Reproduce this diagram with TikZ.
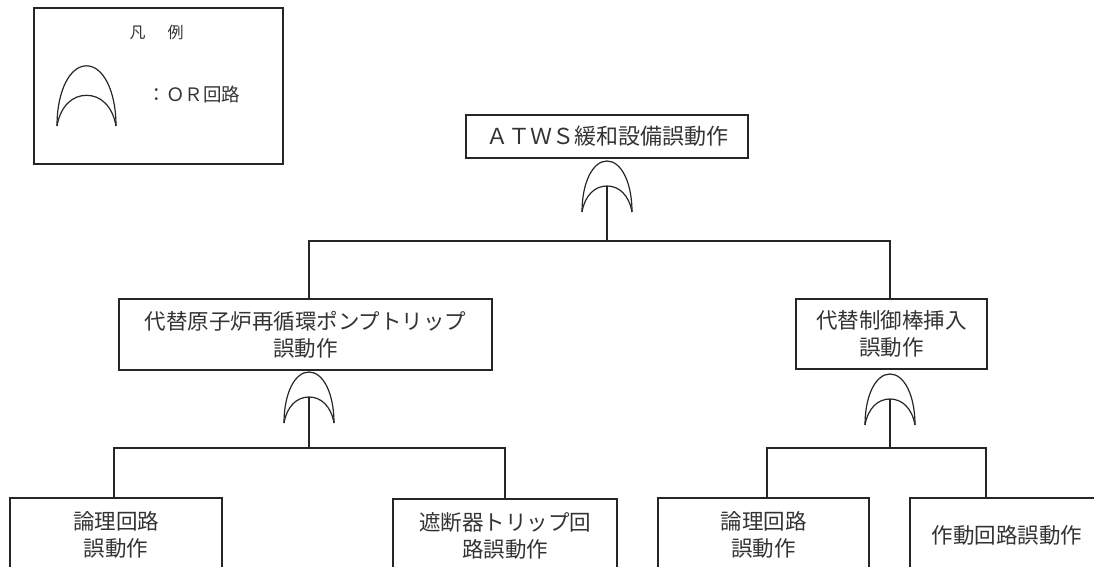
\documentclass[tikz,border=0pt]{standalone}
\usepackage{fontspec}
\newfontfamily\jp{Noto Sans CJK JP}
\begin{document}
\begin{tikzpicture}[x=1pt,y=-1pt,
  line/.style={line width=1.2pt, draw=black!85},
  gate/.style={line width=1.2pt, draw=black!85},
  box/.style={draw=black!85, line width=1.3pt, fill=white, align=center, inner sep=0pt,
    text=black!80, font=\jp\fontsize{21.5}{27}\selectfont},
  orgate/.pic={
    \draw[gate] (-25,0) .. controls (-25,-30) and (-14,-51) .. (0,-51)
                        .. controls (14,-51) and (25,-30) .. (25,0);
    \draw[gate] (-25,0) .. controls (-22,-17) and (-12,-26) .. (0,-26)
                        .. controls (12,-26) and (22,-17) .. (25,0);
    \coordinate (-in) at (0,-26);
    \coordinate (-top) at (0,-51);
  }]
\useasboundingbox (0,0) rectangle (1094,567);
\clip (0,0) rectangle (1094,567);
\fill[white] (0,0) rectangle (1094,567);

% legend
\node[draw=black!85, line width=1.4pt, minimum width=249pt, minimum height=156pt, inner sep=0pt] (legend) at (158.5,86) {};
\node[text=black!80, font=\jp\fontsize{16}{16}\selectfont, inner sep=0pt] (legtitle) at (156.5,32) {凡\hspace{22pt}例};
\pic[scale=1.18] (lg) at (86.5,126) {orgate};
\node[anchor=west, text=black!80, font=\jp\fontsize{18.5}{18.5}\selectfont, inner sep=0pt] (legtext) at (147.5,94) {：ＯＲ回路};

% boxes
\node[box, minimum width=282pt, minimum height=43pt, font=\jp\fontsize{22}{27}\selectfont] (top) at (607,136.5) {ＡＴＷＳ緩和設備誤動作};
\node[box, minimum width=373pt, minimum height=71pt] (mL) at (305.5,334.5) {代替原子炉再循環ポンプトリップ\\誤動作};
\node[box, minimum width=191pt, minimum height=70pt] (mR) at (891.5,334) {代替制御棒挿入\\誤動作};
\node[box, minimum width=212pt, minimum height=74pt] (bL1) at (116,535) {論理回路\\誤動作};
\node[box, minimum width=224pt, minimum height=74pt] (bL2) at (505,536) {遮断器トリップ回\\路誤動作};
\node[box, minimum width=211pt, minimum height=74pt] (bR1) at (763.5,535) {論理回路\\誤動作};
\node[box, minimum width=194pt, minimum height=74pt] (bR2) at (1007,535) {作動回路誤動作};

% gates
\pic (g1) at (607,212) {orgate};
\pic (g2) at (309,423) {orgate};
\pic (g3) at (890,425) {orgate};

% junctions
\coordinate (j1) at (607,241);
\coordinate (j2) at (309,448);
\coordinate (j3) at (890,448);

% connectors
\draw[line] (g1-in) -- (j1);
\draw[line] (mL.north -| g2-top) |- (j1) -| (mR.north -| g3-top);
\draw[line] (g2-in) -- (j2);
\draw[line] ([xshift=-2pt]bL1.north) |- (j2) -| (bL2.north);
\draw[line] (g3-in) -- (j3);
\draw[line] ([xshift=3.5pt]bR1.north) |- (j3) -| ([xshift=-21pt]bR2.north);
\end{tikzpicture}
\end{document}
